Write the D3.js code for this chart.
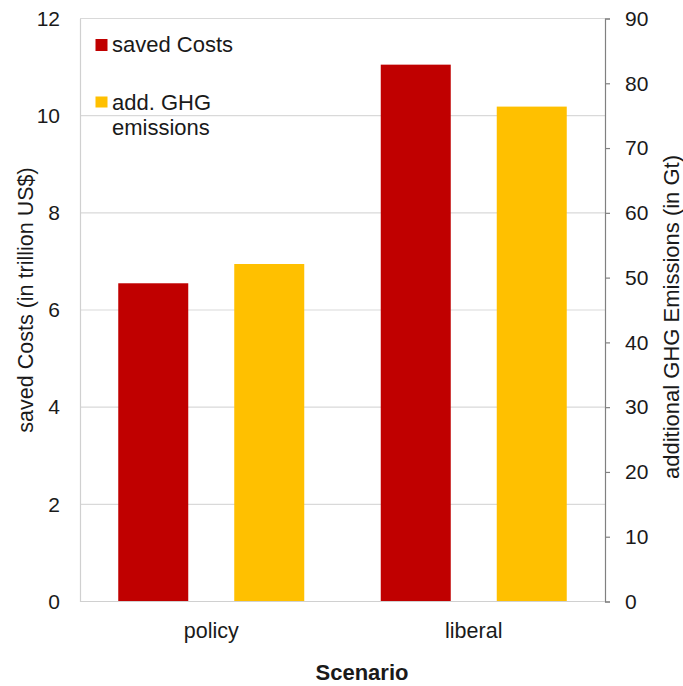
<!DOCTYPE html>
<html>
<head>
<meta charset="utf-8">
<script src="https://cdn.jsdelivr.net/npm/d3@7/dist/d3.min.js"></script>
<style>
  html, body { margin: 0; padding: 0; background: #fff; }
  text { font-family: "Liberation Sans", Arial, sans-serif; fill: #1a1a1a; }
</style>
</head>
<body>
<svg id="chart" width="683" height="686"></svg>
<script>
// Scenarios on the x axis
const scenarios = ["policy", "liberal"];
// Saved costs, trillion US$ (left axis)
const savedCosts = [6.55, 11.05];
// Additional GHG emissions, Gt (right axis)
const ghgEmissions = [52.1, 76.4];
// Axis ticks
const leftTicks = [0, 2, 4, 6, 8, 10, 12];
const rightTicks = [0, 10, 20, 30, 40, 50, 60, 70, 80, 90];

const colors = { cost: "#c00000", ghg: "#ffc000" };

const svg = d3.select("#chart");
const margin = { left: 80, right: 78, top: 18.5, bottom: 84.5 };
const W = 683, H = 686;
const x0 = margin.left, x1 = W - margin.right;
const yTop = margin.top, yBot = H - margin.bottom;

const x = d3.scaleBand().domain(scenarios).range([x0, x1]);
const yL = d3.scaleLinear().domain([0, 12]).range([yBot, yTop]);
const yR = d3.scaleLinear().domain([0, 90]).range([yBot, yTop]);

// gridlines
svg.append("g").selectAll("line").data(leftTicks.filter(d => d > 0)).join("line")
  .attr("x1", x0).attr("x2", x1)
  .attr("y1", d => yL(d)).attr("y2", d => yL(d))
  .attr("stroke", "#d9d9d9").attr("stroke-width", 1.2);

// bars
const barW = 70, gap = 46;
const g = svg.append("g");
scenarios.forEach((s, i) => {
  const c = x(s) + x.bandwidth() / 2;
  g.append("rect")
    .attr("x", c - gap / 2 - barW).attr("width", barW)
    .attr("y", yL(savedCosts[i])).attr("height", yBot - yL(savedCosts[i]))
    .attr("fill", colors.cost);
  g.append("rect")
    .attr("x", c + gap / 2).attr("width", barW)
    .attr("y", yR(ghgEmissions[i])).attr("height", yBot - yR(ghgEmissions[i]))
    .attr("fill", colors.ghg);
});

// left axis
const axL = svg.append("g").attr("transform", `translate(${x0},0)`)
  .call(d3.axisLeft(yL).tickValues(leftTicks).tickSize(0).tickPadding(20));
axL.select(".domain").attr("stroke", "#d0d0d0").attr("stroke-width", 1.2);
axL.selectAll("text").style("font-size", "21px").attr("fill", "#1a1a1a");

// right axis
const axR = svg.append("g").attr("transform", `translate(${x1},0)`)
  .call(d3.axisRight(yR).tickValues(rightTicks).tickSize(5).tickPadding(15));
axR.select(".domain").attr("stroke", "#808080").attr("stroke-width", 1.2);
axR.selectAll(".tick line").attr("stroke", "#808080").attr("stroke-width", 1.2);
axR.selectAll("text").style("font-size", "21px").attr("fill", "#1a1a1a");

// baseline
svg.append("line").attr("x1", x0).attr("x2", x1).attr("y1", yBot).attr("y2", yBot)
  .attr("stroke", "#d0d0d0").attr("stroke-width", 1.2);

// category labels
svg.append("g").selectAll("text").data(scenarios).join("text")
  .attr("x", d => x(d) + x.bandwidth() / 2)
  .attr("y", 638)
  .attr("text-anchor", "middle")
  .style("font-size", "21.5px")
  .text(d => d);

// axis titles
svg.append("text").attr("x", 362).attr("y", 680)
  .attr("text-anchor", "middle").style("font-size", "22px").style("font-weight", "bold")
  .text("Scenario");
svg.append("text")
  .attr("transform", `translate(33,300) rotate(-90)`)
  .attr("text-anchor", "middle").style("font-size", "21.5px")
  .text("saved Costs (in trillion US$)");
svg.append("text")
  .attr("transform", `translate(679,317) rotate(-90)`)
  .attr("text-anchor", "middle").style("font-size", "22px")
  .text("additional GHG Emissions (in Gt)");

// legend
const legend = svg.append("g");
legend.append("rect").attr("x", 95.5).attr("y", 39).attr("width", 12).attr("height", 12).attr("fill", colors.cost);
legend.append("text").attr("x", 112).attr("y", 52).style("font-size", "22px").text("saved Costs");
legend.append("rect").attr("x", 95.5).attr("y", 96.5).attr("width", 12).attr("height", 11).attr("fill", colors.ghg);
const t2 = legend.append("text").attr("x", 112).attr("y", 110).style("font-size", "22px");
t2.append("tspan").attr("x", 112).text("add. GHG");
t2.append("tspan").attr("x", 112).attr("dy", 25).text("emissions");
</script>
</body>
</html>
